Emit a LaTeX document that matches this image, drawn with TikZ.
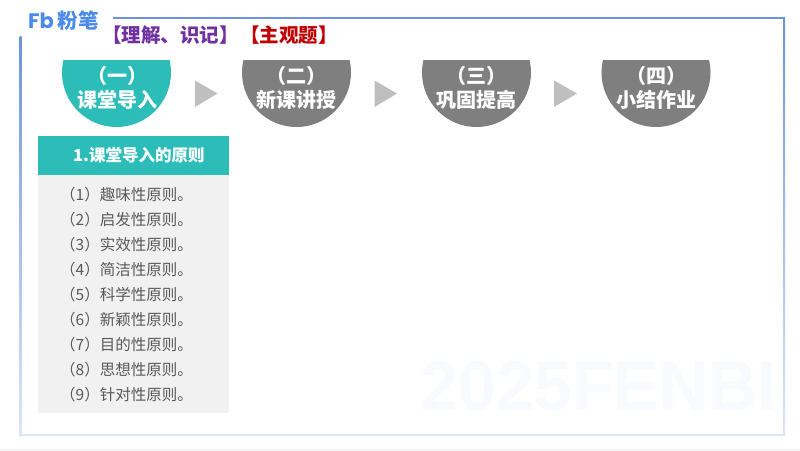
\documentclass[tikz,border=0pt]{standalone}
\usepackage{fontspec}
\setmainfont{Liberation Sans}
\newfontfamily\cjk{Noto Sans CJK SC}
\newfontfamily\wm{Liberation Sans}
\newfontfamily\logofont{Poppins}
\definecolor{teal1}{HTML}{2DBDB8}
\definecolor{gray1}{HTML}{7F7F7F}
\definecolor{arrow1}{HTML}{BFBFBF}
\definecolor{panel}{HTML}{F1F1F1}
\definecolor{itemtext}{HTML}{595959}
\definecolor{logo}{HTML}{4C8BEA}
\definecolor{frameA}{HTML}{6E93DC}
\definecolor{frameB}{HTML}{DCE6F7}
\definecolor{wmark}{HTML}{F8FAFE}
\definecolor{tagA}{HTML}{7030A0}
\definecolor{tagB}{HTML}{C00000}
\tikzset{
  stage/.style={font=\cjk\bfseries\fontsize{20}{24}\selectfont,text=white,align=center,inner sep=0pt},
  item/.style={font=\cjk\fontsize{15.5}{18}\selectfont,text=itemtext,anchor=west,inner sep=0pt},
  tag/.style={font=\cjk\bfseries\fontsize{19.5}{22}\selectfont,anchor=west,inner sep=0pt},
  tri/.style={fill=arrow1,draw=none},
}
\newcommand{\halfdisc}[2]{\begin{scope}\clip (#1-60,60) rectangle (#1+60,130);\fill[#2] (#1,72.5) circle (54.5pt);\end{scope}}
\begin{document}
\begin{tikzpicture}[x=1pt,y=-1pt]
\useasboundingbox (0,0) rectangle (800,450);
\fill[white] (0,0) rectangle (800,450);
\fill[gray!12] (0,448.5) rectangle (800,450);
% watermark
\node[font=\wm\bfseries\fontsize{70}{70}\selectfont,text=wmark,inner sep=0pt,xscale=0.975] (wm) at (598.5,386) {2025FENBI};
% frame
\fill[frameA] (113,17) rectangle (785,19);
\shade[top color=frameA,bottom color=frameB] (783.5,17) rectangle (785,435);
\shade[top color=frameA,bottom color=frameB] (19.5,36) rectangle (21.5,436);
\fill[frameB] (19.5,434) rectangle (785,436);
% logo
\node[font=\logofont\bfseries\fontsize{21}{24}\selectfont,text=logo,inner sep=0pt] (lg) at (41,20.5) {Fb};
\node[font=\cjk\bfseries\fontsize{20.5}{24}\selectfont,text=logo,inner sep=0pt] (lt) at (78,20.5) {粉笔};
% tags
\node[tag,text=tagA] (t1) at (102,35) {【理解、识记】};
\node[tag,text=tagB] (t2) at (240,35) {【主观题】};
% stages
\halfdisc{116.5}{teal1}
\halfdisc{296.5}{gray1}
\halfdisc{476.5}{gray1}
\halfdisc{656}{gray1}
\node[stage] (s1) at (117,88) {（一）\\[-0.5pt]课堂导入};
\node[stage] (s2) at (296.5,88) {（二）\\[-0.5pt]新课讲授};
\node[stage] (s3) at (476,88) {（三）\\[-0.5pt]巩固提高};
\node[stage] (s4) at (656,88) {（四）\\[-0.5pt]小结作业};
% arrows
\fill[tri] (195,80.5) -- (217.5,93.5) -- (195,107) -- cycle;
\fill[tri] (374.5,80.5) -- (397,93.5) -- (374.5,107) -- cycle;
\fill[tri] (554,80.5) -- (577,93.5) -- (554,107) -- cycle;
% panel
\fill[panel] (37.5,175) rectangle (229,413);
\fill[teal1] (37.5,136) rectangle (229,175);
\node[font=\cjk\bfseries\fontsize{16.5}{18}\selectfont,text=white,anchor=west,inner sep=0pt] (h) at (73,155) {1.课堂导入的原则};
\node[item] (i1) at (60,195) {（1）趣味性原则。};
\node[item] (i2) at (60,220) {（2）启发性原则。};
\node[item] (i3) at (60,245) {（3）实效性原则。};
\node[item] (i4) at (60,270) {（4）简洁性原则。};
\node[item] (i5) at (60,295) {（5）科学性原则。};
\node[item] (i6) at (60,320) {（6）新颖性原则。};
\node[item] (i7) at (60,345) {（7）目的性原则。};
\node[item] (i8) at (60,370) {（8）思想性原则。};
\node[item] (i9) at (60,395) {（9）针对性原则。};
\end{tikzpicture}
\end{document}
